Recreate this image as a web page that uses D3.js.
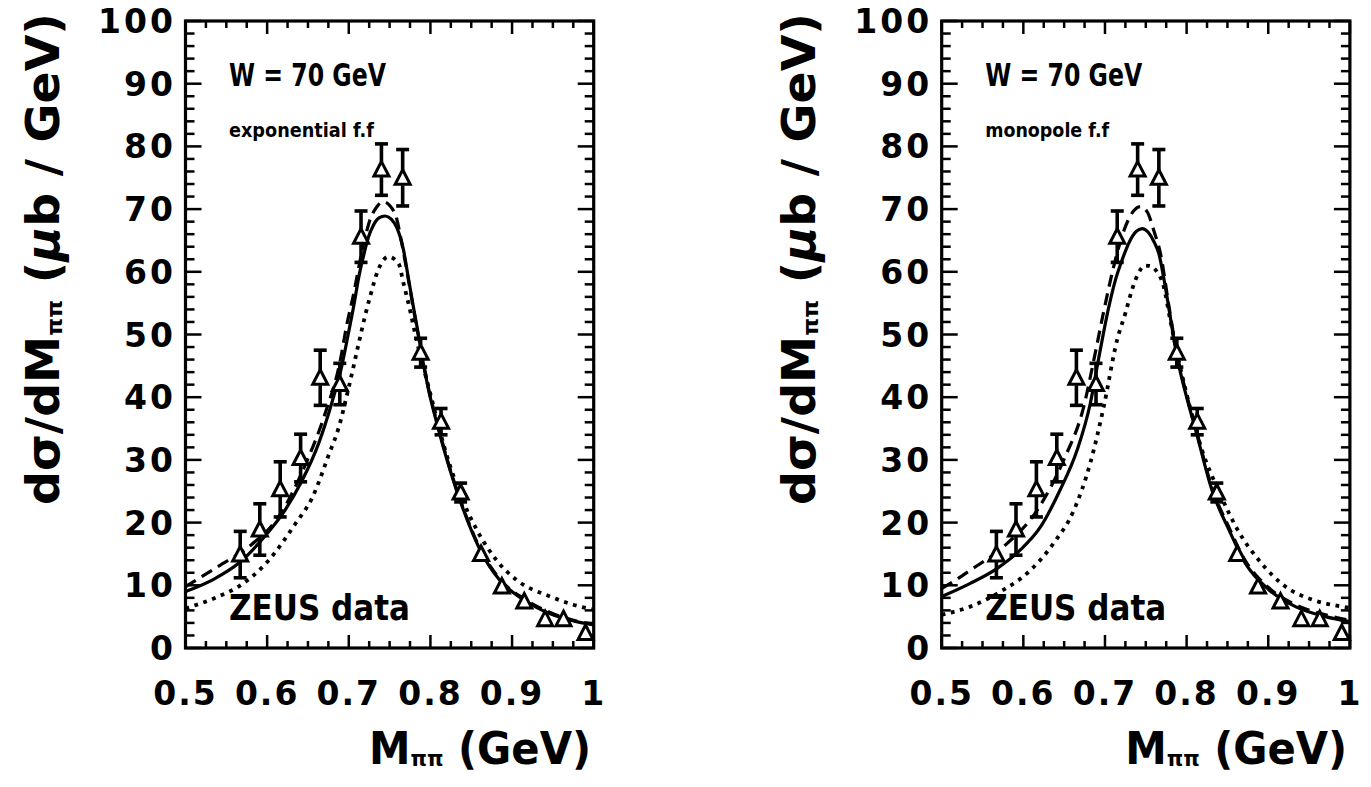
<!DOCTYPE html>
<html>
<head>
<meta charset="utf-8">
<script src="https://cdn.jsdelivr.net/npm/d3@7"></script>
<style>
  html, body { margin: 0; padding: 0; background: #fff; }
  svg { display: block; }
  text { font-family: "DejaVu Sans", sans-serif; fill: #000; }
</style>
</head>
<body>
<svg id="chart" width="1371" height="787"></svg>
<script>
// ZEUS rho0 photoproduction mass spectrum, W = 70 GeV
const massBins   = [0.567, 0.591, 0.616, 0.641, 0.665, 0.689, 0.715, 0.740, 0.766, 0.788, 0.813, 0.837, 0.862, 0.8875, 0.915, 0.9405, 0.963, 0.990];
const zeusValues = [14.9, 18.9, 25.3, 30.3, 43.1, 42.1, 65.6, 76.3, 75.0, 47.1, 36.1, 24.8, 15.0, 9.8, 7.4, 4.6, 4.6, 2.4];
const zeusErrors = [3.7, 4.1, 4.4, 3.8, 4.4, 3.3, 4.1, 4.1, 4.5, 2.3, 2.1, 1.5, 0.9, 0.6, 0.5, 0.5, 0.5, 0.5];

// model curves, exponential form factor
const expSolidX = [0.50, 0.535, 0.565, 0.597, 0.622, 0.642, 0.663, 0.679, 0.691, 0.700, 0.706, 0.712, 0.718, 0.724, 0.730, 0.737, 0.7445, 0.752, 0.759, 0.767, 0.773, 0.779, 0.785, 0.789, 0.798, 0.808, 0.824, 0.8405, 0.861, 0.885, 0.914, 0.946, 0.979, 1.0];
const expSolidY = [9.0, 11.0, 13.5, 17.8, 22.0, 26.5, 32.6, 39.0, 44.7, 50.5, 54.5, 59.0, 62.5, 65.5, 67.4, 68.6, 68.9, 68.4, 67.0, 63.5, 59.0, 54.5, 50.2, 47.0, 41.0, 35.8, 28.4, 22.0, 15.6, 10.8, 7.7, 5.5, 4.2, 3.7];
const expDashX  = [0.50, 0.540, 0.580, 0.614, 0.646, 0.671, 0.689, 0.6975, 0.706, 0.714, 0.720, 0.726, 0.734, 0.742, 0.750, 0.759, 0.765, 0.772, 0.780, 0.789, 0.798, 0.808, 0.824, 0.8405, 0.861, 0.885, 0.914, 0.946, 0.979, 1.0];
const expDashY  = [9.8, 13.0, 16.4, 20.9, 29.0, 37.4, 45.5, 51.5, 56.5, 61.9, 65.5, 68.3, 70.3, 71.2, 70.6, 68.3, 64.5, 59.5, 53.5, 47.2, 41.2, 36.0, 28.6, 22.2, 15.8, 11.0, 7.9, 5.7, 4.3, 3.8];
const expDotX   = [0.50, 0.540, 0.565, 0.602, 0.635, 0.655, 0.676, 0.688, 0.698, 0.706, 0.712, 0.720, 0.726, 0.736, 0.7485, 0.761, 0.767, 0.775, 0.783, 0.792, 0.800, 0.816, 0.8324, 0.857, 0.881, 0.906, 0.947, 0.975, 1.0];
const expDotY   = [6.3, 8.2, 9.8, 14.0, 19.9, 23.9, 31.0, 35.3, 40.5, 45.0, 48.5, 53.0, 56.0, 60.3, 62.4, 61.3, 58.2, 53.9, 49.1, 44.5, 40.5, 32.5, 25.9, 18.8, 14.0, 10.8, 8.2, 6.9, 6.1];

// model curves, monopole form factor
const monoSolidX = [0.50, 0.535, 0.568, 0.596, 0.621, 0.645, 0.666, 0.682, 0.692, 0.7047, 0.713, 0.721, 0.730, 0.738, 0.7455, 0.753, 0.760, 0.766, 0.772, 0.778, 0.786, 0.790, 0.800, 0.811, 0.831, 0.852, 0.872, 0.9007, 0.9333, 0.970, 1.0];
const monoSolidY = [8.2, 10.3, 12.7, 15.6, 19.3, 25.2, 31.6, 39.0, 46.0, 54.4, 58.8, 61.9, 64.8, 66.4, 66.9, 66.3, 64.8, 62.9, 59.0, 54.4, 48.1, 45.4, 40.0, 34.8, 25.2, 18.8, 13.5, 9.3, 6.6, 5.0, 4.2];
const monoDashX  = [0.50, 0.5105, 0.535, 0.576, 0.617, 0.6495, 0.674, 0.688, 0.698, 0.7127, 0.725, 0.735, 0.7434, 0.752, 0.760, 0.768, 0.778, 0.786, 0.790, 0.800, 0.811, 0.831, 0.852, 0.872, 0.9007, 0.9333, 0.970, 1.0];
const monoDashY  = [9.5, 10.3, 12.4, 16.2, 22.0, 30.0, 38.5, 47.0, 53.4, 61.9, 67.2, 69.7, 70.4, 69.5, 66.5, 62.9, 54.8, 48.5, 45.8, 40.4, 35.2, 25.6, 19.2, 13.9, 9.6, 6.9, 5.3, 4.4];
const monoDotX   = [0.50, 0.535, 0.576, 0.6045, 0.637, 0.662, 0.682, 0.6985, 0.7148, 0.725, 0.733, 0.741, 0.7495, 0.756, 0.762, 0.772, 0.780, 0.790, 0.800, 0.819, 0.8395, 0.864, 0.8885, 0.921, 0.954, 0.9906, 1.0];
const monoDotY   = [5.3, 6.6, 9.3, 11.9, 16.7, 22.0, 29.5, 38.5, 49.1, 53.4, 57.1, 59.8, 61.0, 60.9, 60.3, 57.6, 52.3, 46.0, 40.5, 31.5, 25.0, 18.5, 14.0, 9.8, 7.7, 6.6, 6.4];

// axis ticks
const xTickValues = [0.5, 0.6, 0.7, 0.8, 0.9, 1.0];
const xTickLabels = ["0.5", "0.6", "0.7", "0.8", "0.9", "1"];
const yTickValues = [0, 10, 20, 30, 40, 50, 60, 70, 80, 90, 100];
const yTickLabels = ["0", "10", "20", "30", "40", "50", "60", "70", "80", "90", "100"];

const panelTitles = ["exponential f.f", "monopole f.f"];
const panelTitleWidths = [145, 124];
const energyLabel = "W = 70 GeV";
const dataLabel = "ZEUS data";

const svg = d3.select("#chart");

const panels = [
  { offset: 0, title: panelTitles[0], titleWidth: panelTitleWidths[0],
    solid: [expSolidX, expSolidY], dash: [expDashX, expDashY], dot: [expDotX, expDotY] },
  { offset: 756.2, title: panelTitles[1], titleWidth: panelTitleWidths[1],
    solid: [monoSolidX, monoSolidY], dash: [monoDashX, monoDashY], dot: [monoDotX, monoDotY] }
];

const frameL = 185.5, frameR = 593.7, frameT = 21, frameB = 648;

panels.forEach((p, pi) => {
  const g = svg.append("g").attr("transform", `translate(${p.offset},0)`);
  const x = d3.scaleLinear().domain([0.5, 1.0]).range([frameL, frameR]);
  const y = d3.scaleLinear().domain([0, 100]).range([frameB, frameT]);

  const clipId = "clip" + pi;
  g.append("clipPath").attr("id", clipId)
    .append("rect").attr("x", frameL).attr("y", frameT)
    .attr("width", frameR - frameL).attr("height", frameB - frameT);

  // minor + major ticks on all four sides, pointing inward
  const xMinor = d3.range(0, 21).map(i => 0.5 + i * 0.025);
  const yMinor = d3.range(0, 51).map(i => i * 2);
  const ticks = g.append("g").attr("stroke", "#000").attr("stroke-width", 2.5);
  xMinor.forEach((v, i) => {
    const len = (i % 4 === 0) ? 13 : 7;
    ticks.append("line").attr("x1", x(v)).attr("x2", x(v)).attr("y1", frameB).attr("y2", frameB - len);
    ticks.append("line").attr("x1", x(v)).attr("x2", x(v)).attr("y1", frameT).attr("y2", frameT + len);
  });
  yMinor.forEach((v, i) => {
    const len = (i % 5 === 0) ? 16 : 9;
    ticks.append("line").attr("y1", y(v)).attr("y2", y(v)).attr("x1", frameL).attr("x2", frameL + len);
    ticks.append("line").attr("y1", y(v)).attr("y2", y(v)).attr("x1", frameR).attr("x2", frameR - len);
  });

  // frame
  g.append("rect").attr("x", frameL).attr("y", frameT)
    .attr("width", frameR - frameL).attr("height", frameB - frameT)
    .attr("fill", "none").attr("stroke", "#000").attr("stroke-width", 3.2);

  // tick labels
  g.append("g").selectAll("text").data(xTickValues).join("text")
    .attr("x", d => x(d)).attr("y", 705)
    .attr("text-anchor", "middle")
    .attr("font-size", 33).attr("font-weight", "bold").attr("letter-spacing", 2)
    .text((d, i) => xTickLabels[i]);
  g.append("g").selectAll("text").data(yTickValues).join("text")
    .attr("x", 176).attr("y", d => y(d) + 12)
    .attr("text-anchor", "end")
    .attr("font-size", 33).attr("font-weight", "bold").attr("letter-spacing", 3)
    .text((d, i) => yTickLabels[i]);

  // axis titles
  const xt = g.append("text").attr("x", 591).attr("y", 764)
    .attr("text-anchor", "end").attr("font-size", 44).attr("font-weight", "bold")
    .attr("textLength", 222).attr("lengthAdjust", "spacingAndGlyphs");
  xt.append("tspan").text("M");
  xt.append("tspan").attr("font-size", 22).attr("dy", 2).text("ππ");
  xt.append("tspan").attr("dy", -2).text(" (GeV)");

  const yt = g.append("text")
    .attr("transform", "translate(59,259) rotate(-90)")
    .attr("text-anchor", "middle").attr("font-size", 46).attr("font-weight", "bold")
    .attr("textLength", 492).attr("lengthAdjust", "spacingAndGlyphs");
  yt.append("tspan").text("dσ/dM");
  yt.append("tspan").attr("font-size", 22).attr("dy", 3).text("ππ");
  yt.append("tspan").attr("dy", -3).text(" (");
  yt.append("tspan").attr("font-style", "italic").text("μ");
  yt.append("tspan").text("b / GeV)");

  // annotations
  g.append("text").attr("x", 229).attr("y", 86).attr("font-size", 32).attr("font-weight", "bold")
    .attr("textLength", 157).attr("lengthAdjust", "spacingAndGlyphs").text(energyLabel);
  g.append("text").attr("x", 229).attr("y", 137).attr("font-size", 19).attr("font-weight", "bold")
    .attr("textLength", p.titleWidth).attr("lengthAdjust", "spacingAndGlyphs").text(p.title);
  g.append("text").attr("x", 229).attr("y", 620).attr("font-size", 35).attr("font-weight", "bold")
    .attr("textLength", 181).attr("lengthAdjust", "spacingAndGlyphs").text(dataLabel);

  // model curves
  const line = d3.line().x(d => x(d[0])).y(d => y(d[1])).curve(d3.curveMonotoneX);
  const curves = g.append("g").attr("clip-path", `url(#${clipId})`).attr("fill", "none").attr("stroke", "#000");
  const pts = arr => arr[0].map((v, i) => [v, arr[1][i]]);
  curves.append("path").attr("d", line(pts(p.dot))).attr("stroke-width", 3.8).attr("stroke-dasharray", "3.8,5.6");
  curves.append("path").attr("d", line(pts(p.dash))).attr("stroke-width", 3.2).attr("stroke-dasharray", "12,7");
  curves.append("path").attr("d", line(pts(p.solid))).attr("stroke-width", 3.2);

  // data: error bars drawn outside the marker, open triangles
  const mk = 7.5;
  const dg = g.append("g").attr("stroke", "#000").attr("fill", "none").attr("stroke-width", 3.6);
  massBins.forEach((m, i) => {
    const cx = x(m), cy = y(zeusValues[i]);
    const yTop = y(zeusValues[i] + zeusErrors[i]);
    const yBot = y(zeusValues[i] - zeusErrors[i]);
    if (cy - yTop > mk) {
      dg.append("line").attr("x1", cx).attr("x2", cx).attr("y1", yTop).attr("y2", cy - mk);
      dg.append("line").attr("x1", cx - 6.5).attr("x2", cx + 6.5).attr("y1", yTop).attr("y2", yTop);
    }
    if (yBot - cy > mk) {
      dg.append("line").attr("x1", cx).attr("x2", cx).attr("y1", cy + mk).attr("y2", yBot);
      dg.append("line").attr("x1", cx - 6.5).attr("x2", cx + 6.5).attr("y1", yBot).attr("y2", yBot);
    }
    dg.append("path")
      .attr("d", `M${cx},${cy - 8} L${cx + 7.5},${cy + 6.5} L${cx - 7.5},${cy + 6.5} Z`)
      .attr("fill", "#fff").attr("stroke-width", 3).attr("stroke-linejoin", "miter");
  });
});
</script>
</body>
</html>
